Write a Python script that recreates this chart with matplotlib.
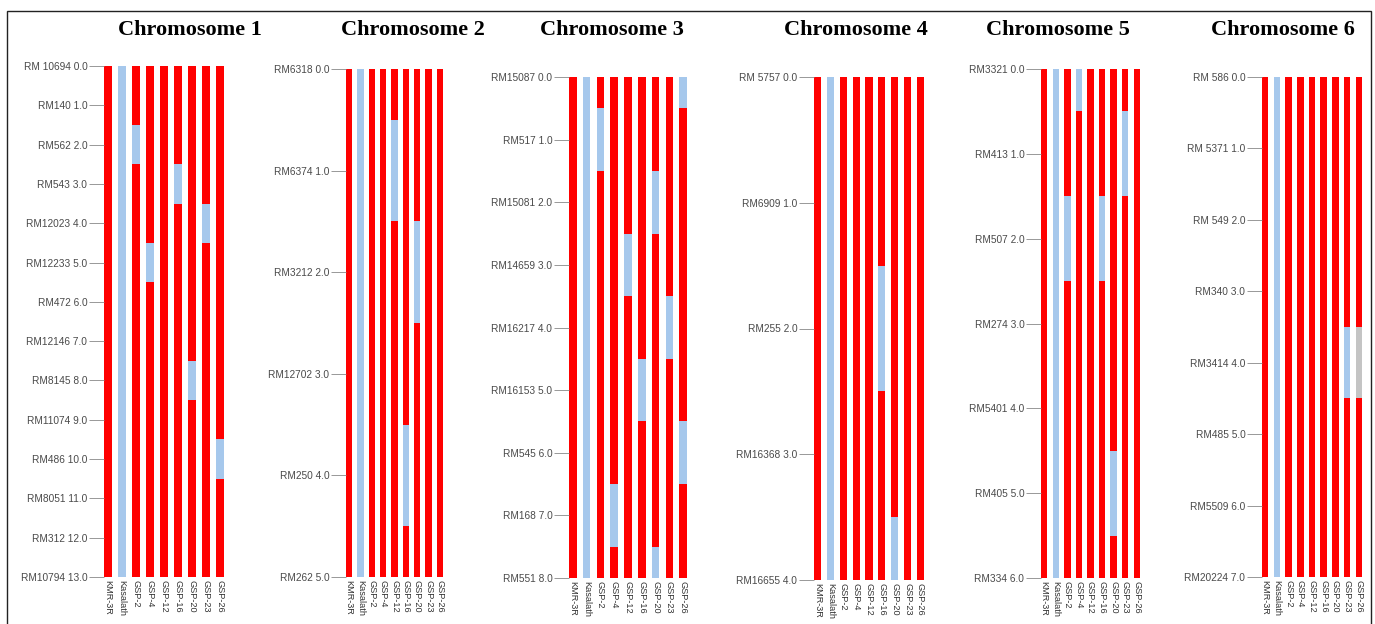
import matplotlib
matplotlib.use('Agg')
import matplotlib.pyplot as plt
from matplotlib.patches import Rectangle


lines = ['KMR-3R', 'Kasalath', 'GSP-2', 'GSP-4', 'GSP-12', 'GSP-16', 'GSP-20', 'GSP-23', 'GSP-26']

# marker names per chromosome (position = marker index, 0.0, 1.0, ...)
chr1_markers = ['RM 10694', 'RM140', 'RM562', 'RM543', 'RM12023', 'RM12233', 'RM472',
                'RM12146', 'RM8145', 'RM11074', 'RM486', 'RM8051', 'RM312', 'RM10794']
chr2_markers = ['RM6318', 'RM6374', 'RM3212', 'RM12702', 'RM250', 'RM262']
chr3_markers = ['RM15087', 'RM517', 'RM15081', 'RM14659', 'RM16217', 'RM16153', 'RM545', 'RM168', 'RM551']
chr4_markers = ['RM 5757', 'RM6909', 'RM255', 'RM16368', 'RM16655']
chr5_markers = ['RM3321', 'RM413', 'RM507', 'RM274', 'RM5401', 'RM405', 'RM334']
chr6_markers = ['RM 586', 'RM 5371', 'RM 549', 'RM340', 'RM3414', 'RM485', 'RM5509', 'RM20224']

# genotype calls, one string per line: A = KMR-3R, B = Kasalath, - = missing
chr1_calls = ['AAAAAAAAAAAAAA', 'BBBBBBBBBBBBBB', 'AABAAAAAAAAAAA', 'AAAAABAAAAAAAA', 'AAAAAAAAAAAAAA',
              'AAABAAAAAAAAAA', 'AAAAAAAABAAAAA', 'AAAABAAAAAAAAA', 'AAAAAAAAAABAAA']
chr2_calls = ['AAAAAA', 'BBBBBB', 'AAAAAA', 'AAAAAA', 'ABAAAA', 'AAAABA', 'AABAAA', 'AAAAAA', 'AAAAAA']
chr3_calls = ['AAAAAAAAA', 'BBBBBBBBB', 'ABAAAAAAA', 'AAAAAAABA', 'AAABAAAAA',
              'AAAAABAAA', 'AABAAAAAB', 'AAAABAAAA', 'BAAAAABAA']
chr4_calls = ['AAAAA', 'BBBBB', 'AAAAA', 'AAAAA', 'AAAAA', 'AABAA', 'AAAAB', 'AAAAA', 'AAAAA']
chr5_calls = ['AAAAAAA', 'BBBBBBB', 'AABAAAA', 'BAAAAAA', 'AAAAAAA', 'AABAAAA', 'AAAAABA', 'ABAAAAA', 'AAAAAAA']
chr6_calls = ['AAAAAAAA', 'BBBBBBBB', 'AAAAAAAA', 'AAAAAAAA', 'AAAAAAAA', 'AAAAAAAA', 'AAAAAAAA',
              'AAAABAAA', 'AAAA-AAA']

colors = {'A': '#ff0000', 'B': '#a6c8ec', '-': '#c4c4c4'}

W, H = 1375, 624
# (bar left px, bar right px, top px, bottom px, title centre px)
panels = [
    (chr1_markers, chr1_calls, 104, 224, 66, 577, 190, 'Chromosome 1'),
    (chr2_markers, chr2_calls, 346, 443, 69, 577, 413, 'Chromosome 2'),
    (chr3_markers, chr3_calls, 569, 687, 77, 578, 612, 'Chromosome 3'),
    (chr4_markers, chr4_calls, 814, 924, 77, 580, 856, 'Chromosome 4'),
    (chr5_markers, chr5_calls, 1041, 1140, 69, 578, 1058, 'Chromosome 5'),
    (chr6_markers, chr6_calls, 1262, 1362, 77, 577, 1283, 'Chromosome 6'),
]

bw = 0.55


def Plot_Panel(fig, markers, calls, x0, x1, y0, y1, tx, title):
    ax = fig.add_axes([x0 / W, 1 - y1 / H, (x1 - x0) / W, (y1 - y0) / H])
    n = len(markers)
    for j, s in enumerate(calls):
        for i, g in enumerate(s):
            lo = max(i - 0.5, 0)
            hi = min(i + 0.5, n - 1)
            ax.bar(j, hi - lo, bottom=lo, width=bw, color=colors[g], linewidth=0)
    ax.set_xlim(-bw / 2, len(calls) - 1 + bw / 2)
    ax.set_ylim(n - 1, 0)
    ax.set_yticks(range(n))
    ax.set_yticklabels([f'{m} {i:.1f}' for i, m in enumerate(markers)],
                       family='Liberation Sans')
    ax.tick_params(axis='y', length=11, width=0.6, color='#888888', labelsize=7.3,
                   labelcolor='#4a4a4a', pad=1)
    ax.set_xticks([])
    for sp in ax.spines.values():
        sp.set_visible(False)
    ax.patch.set_alpha(0)
    for j, name in enumerate(lines):
        ax.text(j, n - 1 + (n - 1) * 3 / (y1 - y0), name, rotation=270, ha='center', va='top',
                fontsize=6.6, color='#333333', family='Liberation Sans')
    fig.text(tx / W, 1 - 30 / H, title, ha='center', va='center', fontsize=16,
             fontweight='bold', family='Liberation Serif')


def Main():
    fig = plt.figure(figsize=(W / 100, H / 100), dpi=100)
    fig.patches.append(Rectangle((7 / W, -0.1), (1371 - 7) / W, 1.1 - 11 / H,
                                 transform=fig.transFigure, fill=False, edgecolor='#222222',
                                 linewidth=1))
    for p in panels:
        Plot_Panel(fig, *p)
    fig.savefig('out.png', dpi=100)
    plt.close(fig)


if __name__ == '__main__':
    Main()
